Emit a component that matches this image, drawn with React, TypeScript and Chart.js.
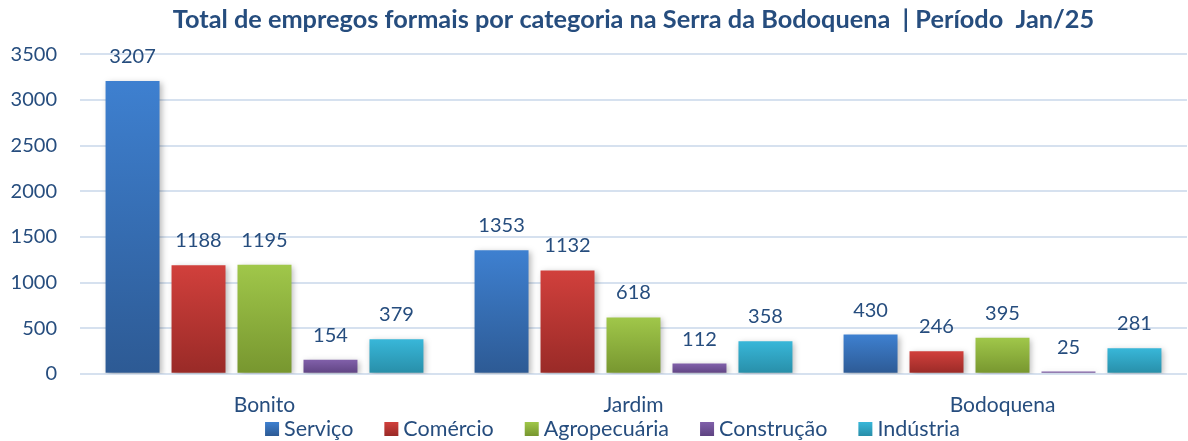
import React, { useEffect, useRef } from "react";
import { Chart, registerables } from "chart.js";

Chart.register(...registerables);

const categories = ["Bonito", "Jardim", "Bodoquena"];
const seriesNames = ["Serviço", "Comércio", "Agropecuária", "Construção", "Indústria"];
const servico = [3207, 1353, 430];
const comercio = [1188, 1132, 246];
const agropecuaria = [1195, 618, 395];
const construcao = [154, 112, 25];
const industria = [379, 358, 281];
const yTicks = [0, 500, 1000, 1500, 2000, 2500, 3000, 3500];

const titleText = "Total de empregos formais por categoria na Serra da Bodoquena  | Período  Jan/25";

const topColors = ["#3E80D0", "#D1403C", "#A0C74A", "#8160AA", "#38B7D9"];
const bottomColors = ["#2D5A94", "#992A27", "#77962F", "#5E4381", "#288EA8"];
const midColors = ["#3670B8", "#BC3834", "#8DB03E", "#7052A0", "#31A2C2"];

const textColor = "#264D7E";
const gridColor = "#D6E1EF";
const FONT = "Lato, 'Open Sans', sans-serif";

const seriesValues = [servico, comercio, agropecuaria, construcao, industria];

const effectsPlugin = {
  id: "barEffects",
  beforeDatasetsDraw(chart: any) {
    const ctx = chart.ctx;
    ctx.save();
    ctx.shadowColor = "rgba(0,0,0,0.28)";
    ctx.shadowBlur = 6;
    ctx.shadowOffsetX = 2;
    ctx.shadowOffsetY = 2;
  },
  afterDatasetsDraw(chart: any) {
    const ctx = chart.ctx;
    ctx.restore();
    ctx.save();
    ctx.font = `20px ${FONT}`;
    ctx.fillStyle = textColor;
    ctx.textAlign = "center";
    ctx.textBaseline = "alphabetic";
    chart.data.datasets.forEach((ds: any, di: number) => {
      const meta = chart.getDatasetMeta(di);
      meta.data.forEach((el: any, i: number) => {
        ctx.fillText(String(ds.data[i]), el.x, el.y - 18);
      });
    });
    ctx.restore();
  },
  afterDraw(chart: any) {
    // legend drawn at the bottom of the canvas
    const ctx = chart.ctx;
    ctx.save();
    ctx.font = `21.5px ${FONT}`;
    const box = 14;
    const gapText = 5;
    const gapItem = 31;
    const widths = seriesNames.map((n) => ctx.measureText(n).width);
    const total =
      widths.reduce((a, w) => a + box + gapText + w, 0) + gapItem * (seriesNames.length - 1);
    let x = 612.5 - total / 2;
    const baseline = 436;
    ctx.textBaseline = "alphabetic";
    ctx.textAlign = "left";
    seriesNames.forEach((n, i) => {
      const g = ctx.createLinearGradient(0, baseline - box, 0, baseline);
      g.addColorStop(0, topColors[i]);
      g.addColorStop(1, bottomColors[i]);
      ctx.fillStyle = g;
      ctx.fillRect(x, baseline - box, box, box);
      ctx.fillStyle = textColor;
      ctx.fillText(n, x + box + gapText, baseline);
      x += box + gapText + widths[i] + gapItem;
    });
    ctx.restore();
  },
};

export default function App() {
  const canvasRef = useRef<HTMLCanvasElement | null>(null);

  useEffect(() => {
    if (!canvasRef.current) return;
    const makeBg = (si: number) => (c: any) => {
      const chart = c.chart;
      const { chartArea, scales } = chart;
      if (!chartArea || c.type !== "data" || !scales.y) return midColors[si];
      const v = c.raw as number;
      const yTop = scales.y.getPixelForValue(v);
      const yBot = scales.y.getPixelForValue(0);
      if (!isFinite(yTop) || !isFinite(yBot) || yBot - yTop < 1) return topColors[si];
      const g = chart.ctx.createLinearGradient(0, yTop, 0, yBot);
      g.addColorStop(0, topColors[si]);
      g.addColorStop(1, bottomColors[si]);
      return g;
    };

    const chart = new Chart(canvasRef.current, {
      type: "bar",
      data: {
        labels: categories,
        datasets: seriesNames.map((name, si) => ({
          label: name,
          data: seriesValues[si],
          backgroundColor: makeBg(si),
          borderWidth: 0,
          categoryPercentage: 0.894,
          barPercentage: 0.818,
        })),
      },
      options: {
        animation: false,
        responsive: true,
        maintainAspectRatio: false,
        layout: { padding: { left: 0, right: 1, top: 0, bottom: 4 } },
        plugins: {
          title: {
            display: true,
            fullSize: false,
            text: titleText,
            color: textColor,
            font: { family: FONT, size: 25.3, weight: "bold" },
            padding: { top: 5, bottom: 19 },
          },
          legend: { display: false },
          tooltip: { enabled: false },
        },
        scales: {
          x: {
            grid: { display: false, drawTicks: false },
            border: { display: false },
            ticks: {
              color: textColor,
              font: { family: FONT, size: 21 },
              padding: 19,
            },
          },
          y: {
            min: 0,
            max: 3500,
            afterBuildTicks: (scale: any) => {
              scale.ticks = yTicks.map((v) => ({ value: v }));
            },
            afterFit: (scale: any) => {
              scale.width = 80;
            },
            grid: { color: gridColor, lineWidth: 2, drawTicks: false },
            border: { display: false },
            ticks: {
              color: textColor,
              font: { family: FONT, size: 20 },
              padding: 23,
              callback: (v: any) => String(v),
            },
          },
        },
      },
      plugins: [effectsPlugin],
    });
    return () => chart.destroy();
  }, []);

  return (
    <div
      style={{
        position: "fixed",
        left: 0,
        top: 0,
        width: 1188,
        height: 441,
        background: "#ffffff",
      }}
    >
      <canvas ref={canvasRef} />
    </div>
  );
}
